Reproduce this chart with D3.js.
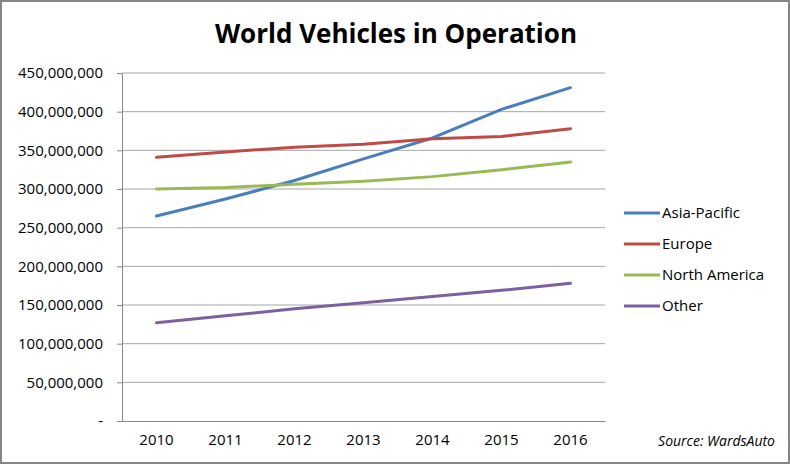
<!DOCTYPE html>
<html lang="en">
<head>
<meta charset="UTF-8">
<title>World Vehicles in Operation</title>
<script src="https://d3js.org/d3.v7.min.js"></script>
<style>
  body { margin: 0; background: #fff; }
  svg { display: block; font-family: "Open Sans", "Noto Sans", sans-serif; }
</style>
</head>
<body>
<svg id="chart" width="790" height="464"></svg>
<script>
// data
const years = ["2010", "2011", "2012", "2013", "2014", "2015", "2016"];
const asiaPacific = [265e6, 287e6, 311e6, 339e6, 366e6, 403e6, 431e6];
const europe = [341e6, 348e6, 354e6, 358e6, 365e6, 368e6, 378e6];
const northAmerica = [300e6, 302e6, 306e6, 310e6, 316e6, 325e6, 335e6];
const other = [127e6, 136e6, 145e6, 153e6, 161e6, 169e6, 178e6];
const seriesNames = ["Asia-Pacific", "Europe", "North America", "Other"];
const seriesColors = ["#4a7ebb", "#be4b48", "#98b954", "#7d60a0"];
const yTicks = [0, 50e6, 100e6, 150e6, 200e6, 250e6, 300e6, 350e6, 400e6, 450e6];

const series = [asiaPacific, europe, northAmerica, other].map((v, i) => ({
  name: seriesNames[i], color: seriesColors[i], values: v
}));

const svg = d3.select("#chart");
const W = +svg.attr("width"), H = +svg.attr("height");
const plot = { left: 122, right: 605, top: 73, bottom: 421 };

// outer border
svg.append("rect")
  .attr("x", 1).attr("y", 1).attr("width", W - 2).attr("height", H - 2)
  .attr("fill", "#fff").attr("stroke", "#868686").attr("stroke-width", 2);

svg.append("text")
  .attr("x", 396).attr("y", 43)
  .attr("text-anchor", "middle")
  .attr("font-size", 26).attr("font-weight", "bold")
  .attr("fill", "#000")
  .text("World Vehicles in Operation");

const x = d3.scaleBand().domain(years).range([plot.left, plot.right]);
const y = d3.scaleLinear().domain([0, 450e6]).range([plot.bottom, plot.top]);

// gridlines
svg.append("g")
  .selectAll("line")
  .data(yTicks.filter(d => d > 0))
  .join("line")
  .attr("x1", plot.left).attr("x2", plot.right)
  .attr("y1", d => y(d)).attr("y2", d => y(d))
  .attr("stroke", "#a6a6a6").attr("stroke-width", 1);

// y axis
const yAxis = svg.append("g")
  .attr("transform", `translate(${plot.left},0)`)
  .call(d3.axisLeft(y).tickValues(yTicks).tickSize(5).tickPadding(14)
    .tickFormat(d => d === 0 ? "-" : d3.format(",")(d)));
yAxis.select(".domain").attr("stroke", "#868686");
yAxis.selectAll(".tick line").attr("stroke", "#868686");
yAxis.selectAll("text").attr("font-size", 15).attr("fill", "#000")
  .attr("font-family", "Open Sans, sans-serif");

// x axis
const xAxis = svg.append("g")
  .attr("transform", `translate(0,${plot.bottom})`)
  .call(d3.axisBottom(x).tickSize(0).tickPadding(13));
xAxis.select(".domain").attr("stroke", "#868686");
xAxis.selectAll("text").attr("font-size", 15).attr("fill", "#000")
  .attr("font-family", "Open Sans, sans-serif");

// lines
const line = d3.line()
  .x((d, i) => x(years[i]) + x.bandwidth() / 2)
  .y(d => y(d));

svg.append("g")
  .selectAll("path")
  .data(series)
  .join("path")
  .attr("d", d => line(d.values))
  .attr("fill", "none")
  .attr("stroke", d => d.color)
  .attr("stroke-width", 3)
  .attr("stroke-linejoin", "round")
  .attr("stroke-linecap", "round");

// legend
const legend = svg.append("g")
  .selectAll("g")
  .data(series)
  .join("g")
  .attr("transform", (d, i) => `translate(624,${213 + i * 31})`);
legend.append("line")
  .attr("x1", 0).attr("x2", 36)
  .attr("stroke", d => d.color).attr("stroke-width", 3);
legend.append("text")
  .attr("x", 38).attr("dy", "0.35em")
  .attr("font-size", 15).attr("fill", "#000")
  .text(d => d.name);

svg.append("text")
  .attr("x", 775).attr("y", 446)
  .attr("text-anchor", "end")
  .attr("font-size", 14).attr("font-style", "italic")
  .attr("fill", "#000")
  .text("Source: WardsAuto");
</script>
</body>
</html>
